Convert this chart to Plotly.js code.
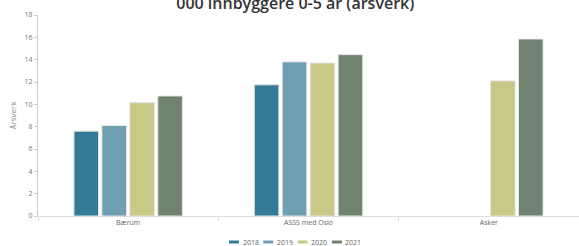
<!DOCTYPE html>
<html><head><meta charset="utf-8">
<script src="https://cdn.plot.ly/plotly-3.0.1.min.js"></script>
<style>html,body{margin:0;padding:0;background:#fff}#c{width:579px;height:246px}</style>
</head><body><div id="c"></div>
<script>
const categories = ['Bærum', 'ASSS med Oslo', 'Asker'];
const years = ['2018', '2019', '2020', '2021'];
const v2018 = [7.6, 11.75, null];
const v2019 = [8.1, 13.8, null];
const v2020 = [10.15, 13.7, 12.1];
const v2021 = [10.75, 14.45, 15.85];
const series = [v2018, v2019, v2020, v2021];
const colors = ['#347b98', '#6fa0b2', '#c8c987', '#6f8370'];

const W = 579, H = 246, ML = 38, MR = 0, MT = 15, MB = 30;
const pw = W - ML - MR, ph = H - MT - MB;
const px = x => (x - ML) / pw;
const py = y => (H - MB - y) / ph;

const traces = series.map((vals, i) => ({
  type: 'bar', x: categories, y: vals, name: years[i], showlegend: false,
  marker: {color: colors[i], line: {color: '#e4e4e4', width: 1}}
}));

// custom legend (short line symbols)
const shapes = [], annotations = [];
const legStart = 229, legStep = 34.3, legY = 242;
years.forEach((yr, i) => {
  const x0 = legStart + i * legStep;
  shapes.push({type: 'line', xref: 'paper', yref: 'paper',
    x0: px(x0), x1: px(x0 + 10), y0: py(legY), y1: py(legY),
    line: {color: colors[i], width: 3}});
  annotations.push({xref: 'paper', yref: 'paper', x: px(x0 + 12.5), y: py(legY),
    xanchor: 'left', yanchor: 'middle', showarrow: false, text: yr, borderpad: 0,
    font: {size: 7, color: '#666'}});
});

const layout = {
  width: W, height: H,
  margin: {l: ML, r: MR, t: MT, b: MB, autoexpand: false},
  paper_bgcolor: '#fff', plot_bgcolor: '#fff',
  font: {family: 'Open Sans, Arial, sans-serif', color: '#666'},
  title: {text: '000 innbyggere 0-5 år (årsverk)', font: {size: 16, color: '#333', weight: 600},
          x: 0.51, xanchor: 'center', y: 0.962, yref: 'container', yanchor: 'bottom'},
  barmode: 'group', bargap: 0.38, bargroupgap: 0.12,
  xaxis: {
    type: 'category', showline: true, linecolor: '#ddd', linewidth: 1,
    ticks: 'outside', tickson: 'boundaries', ticklen: 4, tickcolor: '#ddd',
    tickfont: {size: 7, color: '#666'}, showgrid: false, zeroline: false
  },
  yaxis: {
    range: [0, 18], dtick: 2, showline: true, linecolor: '#ccc', linewidth: 1,
    ticks: 'outside', ticklen: 3, tickcolor: '#ccc',
    tickfont: {size: 7, color: '#777'}, showgrid: false, zeroline: false,
    title: {text: 'Årsverk', font: {size: 8, color: '#888'}, standoff: 6}
  },
  shapes: shapes, annotations: annotations,
  showlegend: false
};
Plotly.newPlot('c', traces, layout, {displayModeBar: false, staticPlot: true});
</script></body></html>
